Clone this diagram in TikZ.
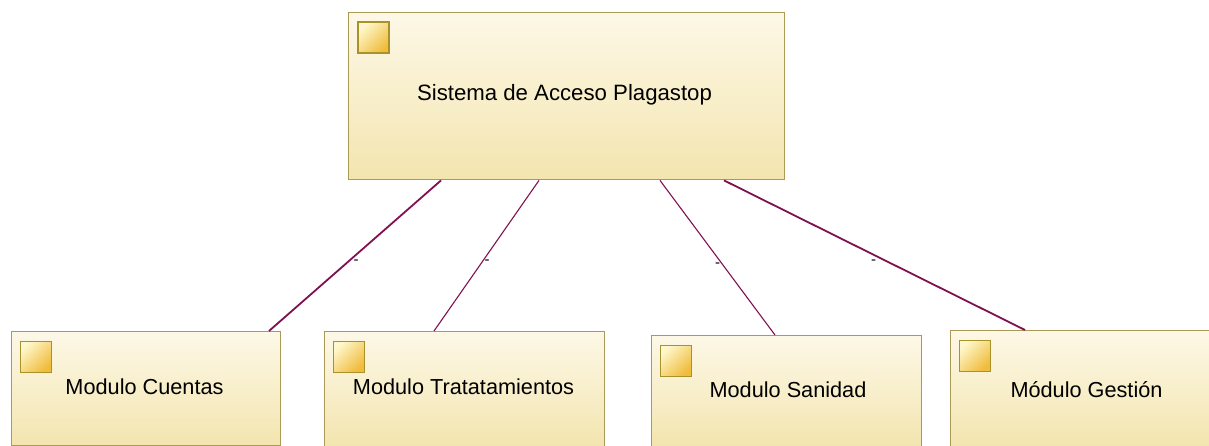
\documentclass[tikz,border=0pt]{standalone}
\usepackage{fontspec}
\setmainfont{Liberation Sans}
\usetikzlibrary{calc}
\definecolor{boxtop}{HTML}{FDF8E7}
\definecolor{boxbot}{HTML}{F3E5AF}
\definecolor{boxline}{HTML}{AB9A55}
\definecolor{conn}{HTML}{7F1150}
\definecolor{iconlight}{HTML}{FEF8CC}
\definecolor{icondark}{HTML}{F0BC3C}
\definecolor{iconline}{HTML}{A8922A}
\tikzset{
  x=1pt,y=-1pt,
  modbox/.style={draw=boxline,line width=1.4pt,top color=boxtop,bottom color=boxbot,minimum width=0pt,inner sep=0pt},
  iconbox/.style={draw=iconline,line width=1.6pt,shading=axis,left color=iconlight,right color=icondark,shading angle=45,minimum width=31pt,minimum height=31pt,inner sep=0pt,anchor=north west},
  lbl/.style={font=\fontsize{21.7pt}{24pt}\selectfont,text=black,inner sep=0pt,anchor=base},
  lblbig/.style={font=\fontsize{22.2pt}{24pt}\selectfont,text=black,inner sep=0pt,anchor=base},
  link/.style={draw=conn,line width=1.1pt},
  linkb/.style={draw=conn,line width=1.8pt},
  dashlbl/.style={font=\fontsize{15pt}{15pt}\selectfont,text=black,inner sep=0pt}
}
\newcommand{\modrect}[5]{% name, x0,y0,x1,y1
  \node[modbox,anchor=north west,minimum width=#4pt-#2pt,minimum height=#5pt-#3pt] (#1) at (#2,#3) {};
  \node[iconbox] (#1icon) at (#2+9,#3+9.5) {};
}
\begin{document}
\begin{tikzpicture}
\useasboundingbox (0,0) rectangle (1209,446);
\modrect{main}{348}{12}{784}{179}
\modrect{cuentas}{10.5}{331}{280}{445}
\modrect{trat}{323.5}{331}{604}{446}
\modrect{san}{650.5}{335}{921}{446}
\modrect{gest}{949.5}{330}{1216}{446}
\node[lblbig] (tmain) at (564.5,100.5) {Sistema de Acceso Plagastop};
\node[lbl] (tc) at (144.5,394) {Modulo Cuentas};
\node[lbl] (tt) at (463.5,394) {Modulo Tratatamientos};
\node[lbl] (ts) at (788,397) {Modulo Sanidad};
\node[lbl] (tg) at (1086.5,397) {Módulo Gestión};
\coordinate (m1) at ($(main.south west)+(93,0)$);
\coordinate (m2) at ($(main.south west)+(191,0)$);
\coordinate (m3) at ($(main.south west)+(312,0)$);
\coordinate (m4) at ($(main.south west)+(376,0)$);
\coordinate (c1) at ($(cuentas.north west)+(258.5,0)$);
\coordinate (t1) at ($(trat.north west)+(110.5,0)$);
\coordinate (s1) at ($(san.north west)+(124.5,0)$);
\coordinate (g1) at ($(gest.north west)+(75.5,0)$);
\draw[linkb] (m1) -- node[pos=0.5,dashlbl,xshift=1pt,yshift=-7pt] (d1) {-} (c1);
\draw[link] (m2) -- node[pos=0.5,dashlbl,xshift=0.5pt,yshift=-7pt] (d2) {-} (t1);
\draw[link] (m3) -- node[pos=0.5,dashlbl,xshift=0pt,yshift=-8pt] (d3) {-} (s1);
\draw[linkb] (m4) -- node[pos=0.5,dashlbl,xshift=-1pt,yshift=-7pt] (d4) {-} (g1);
\end{tikzpicture}
\end{document}
